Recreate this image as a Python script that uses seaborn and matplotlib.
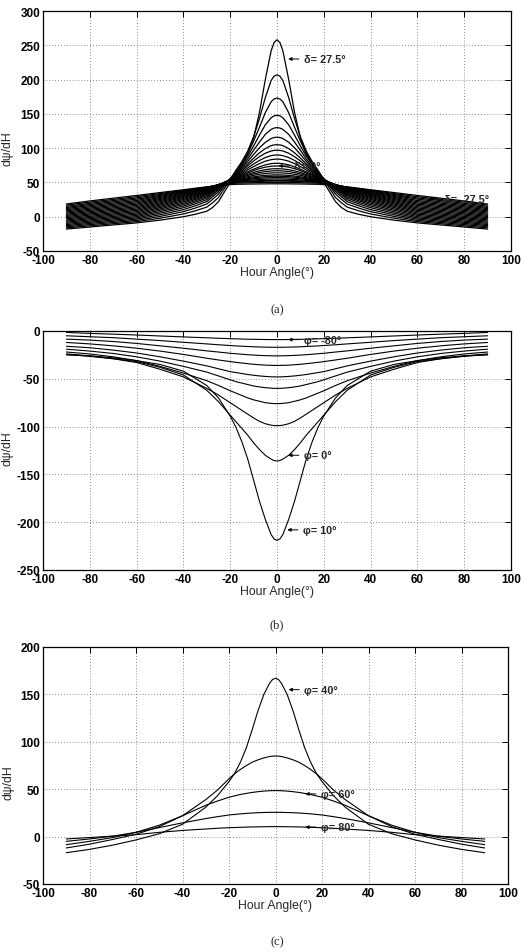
import pandas as pd
import seaborn as sns
import matplotlib.pyplot as plt

# hour angle samples (deg) for H >= 0, curves are symmetric about H = 0
ha_a = [0, 1.25, 2.5, 5, 7.5, 10, 12.5, 15, 17.5, 20, 22.5, 25, 27.5, 30, 35, 40, 50, 60, 70, 80, 90]
ha_bc = [0, 1.25, 2.5, 5, 7.5, 10, 12.5, 15, 17.5, 20, 25, 30, 40, 50, 60, 70, 80, 90]

# (a) fixed latitude, declination 27.5 .. -27.5 step 2.5
d_275 = [258, 254, 242, 200, 152, 115, 92, 76, 63, 50, 36, 22, 13.5, 8, 3.5, 0, -5, -9, -12, -15, -18]
d_250 = [207, 204.9, 198.7, 173.6, 143.1, 116.6, 95.8, 80.5, 68, 54, 41, 28, 20.5, 14, 8.5, 4, -2.2, -7.2, -10.2, -13.3, -16.3]
d_225 = [173, 171.7, 167.7, 151.7, 130.4, 110.2, 92.1, 78.2, 66.5, 55, 44.5, 33, 25.5, 18.5, 12.5, 7.4, 0.4, -5.4, -8.5, -11.5, -14.7]
d_200 = [148, 147.1, 144.3, 134, 118.9, 103.2, 88.2, 75.8, 65, 55.3, 46.5, 36.5, 29.2, 22, 15.8, 10.4, 2.8, -3.5, -6.7, -9.8, -13]
d_175 = [130, 129.3, 127.3, 120.1, 108.8, 96.9, 84.3, 73, 63.7, 55.2, 47.8, 39, 32, 24.8, 18.6, 13.1, 5.1, -1.7, -4.9, -8.1, -11.4]
d_150 = [116, 115.5, 114.1, 108.5, 100.5, 90.9, 80.7, 71.1, 62.5, 55, 48.7, 40.8, 34.2, 27.2, 21, 15.5, 7.3, 0.1, -3.1, -6.4, -9.7]
d_125 = [105, 104.7, 103.7, 99.3, 93.2, 85.4, 77.1, 68.8, 61.4, 54.7, 49.3, 42.2, 36, 29.2, 23.1, 17.7, 9.4, 1.9, -1.4, -4.6, -8]
d_100 = [97, 96.7, 95.9, 92.6, 87.5, 81.3, 74.3, 67, 60.4, 54.3, 49.7, 43.3, 37.4, 31, 25, 19.7, 11.4, 3.7, 0.4, -2.9, -6.4]
d_075 = [90, 89.8, 89.1, 86.3, 82.1, 76.9, 71.1, 65, 59.5, 54, 50, 44.2, 38.7, 32.5, 26.7, 21.6, 13.3, 5.5, 2.2, -1.2, -4.7]
d_050 = [84, 83.8, 83.2, 81, 77.4, 73.1, 68.3, 63.2, 58.6, 53.6, 50.1, 44.9, 39.7, 33.8, 28.3, 23.4, 15.1, 7.4, 4, 0.5, -3.1]
d_025 = [78, 77.8, 77.4, 75.6, 72.7, 69.3, 65.5, 61.4, 57.8, 53.2, 50.1, 45.5, 40.6, 35, 29.7, 25.1, 16.9, 9.2, 5.7, 2.3, -1.4]
d_000 = [74, 73.9, 73.6, 72.3, 70.1, 67.2, 63.8, 60.4, 57, 52.8, 50, 46, 41.4, 36.1, 31.1, 26.7, 18.6, 11, 7.5, 4, 0.3]
d_m025 = [70, 69.9, 69.7, 68.6, 66.8, 64.5, 61.7, 59, 56.2, 52.4, 49.8, 46.3, 42.1, 37.1, 32.4, 28.2, 20.3, 12.8, 9.3, 5.7, 1.9]
d_m050 = [67, 66.9, 66.7, 65.9, 64.4, 62.4, 60.1, 57.8, 55.5, 52, 49.6, 46.6, 42.7, 38, 33.6, 29.6, 21.9, 14.6, 11, 7.5, 3.6]
d_m075 = [64, 63.9, 63.8, 63.1, 61.9, 60.3, 58.4, 56.6, 54.7, 51.5, 49.3, 46.8, 43.2, 38.8, 34.7, 30.9, 23.5, 16.5, 12.8, 9.2, 5.2]
d_m100 = [61, 61, 60.8, 60.3, 59.4, 58.2, 56.8, 55.4, 54, 51, 49, 46.9, 43.6, 39.6, 35.7, 32.1, 25.1, 18.3, 14.6, 10.9, 6.9]
d_m125 = [59, 59, 58.9, 58.4, 57.7, 56.7, 55.5, 54.4, 53.2, 50.5, 48.6, 46.9, 44, 40.3, 36.7, 33.3, 26.6, 20.1, 16.4, 12.6, 8.6]
d_m150 = [57, 57, 56.9, 56.6, 56, 55.2, 54.3, 53.4, 52.5, 50, 48.2, 46.8, 44.3, 41, 37.6, 34.4, 28.1, 21.9, 18.1, 14.4, 10.2]
d_m175 = [55, 55, 54.9, 54.7, 54.2, 53.7, 53, 52.4, 51.7, 49.5, 47.8, 46.7, 44.5, 41.6, 38.5, 35.5, 29.6, 23.7, 19.9, 16.1, 11.9]
d_m200 = [53, 53, 52.9, 52.8, 52.5, 52.2, 51.7, 51.3, 50.9, 49, 47.4, 46.5, 44.6, 42.2, 39.3, 36.5, 31, 25.6, 21.7, 17.8, 13.5]
d_m225 = [52, 52, 51.9, 51.8, 51.5, 51.2, 50.8, 50.4, 50, 48.3, 47, 46.3, 44.7, 42.7, 40.1, 37.5, 32.4, 27.4, 23.5, 19.5, 15.2]
d_m250 = [50, 50, 50, 49.9, 49.7, 49.6, 49.3, 49.1, 48.9, 47.6, 46.6, 45.9, 44.7, 43.2, 40.8, 38.4, 33.8, 29.2, 25.2, 21.3, 16.9]
d_m275 = [48, 48, 48, 47.9, 47.8, 47.7, 47.6, 47.4, 47.3, 46.8, 46.2, 45.4, 44.5, 43.6, 41.5, 39.3, 35.2, 31, 27, 23, 18.5]

# (b) latitude 10 .. -80
p_10 = [-219, -217.5, -213, -197, -178, -156, -134, -116, -101, -89, -70, -57, -42, -35, -31, -28, -26, -25]
p_0 = [-136, -135.5, -134, -130, -124, -117, -109, -102, -95, -88, -74, -62, -46, -38, -32, -29, -26.5, -24.5]
p_m10 = [-99, -98.9, -98.5, -97, -94.5, -91, -87, -83, -79, -75, -67, -60, -48, -40, -33, -29, -26, -24]
p_m20 = [-76, -75.9, -75.7, -75, -73.5, -72, -70, -67.5, -65, -62.5, -57, -52, -44, -37, -31, -27, -24, -22]
p_m30 = [-60, -60, -59.8, -59.3, -58.5, -57.5, -56, -54.5, -53, -51, -47, -43, -37, -31.5, -27, -23.5, -21, -19]
p_m40 = [-48, -48, -47.9, -47.5, -47, -46.3, -45.5, -44.5, -43.5, -42.5, -39.5, -36.5, -31.5, -27, -23, -20, -17.5, -16]
p_m50 = [-36, -36, -35.9, -35.7, -35.3, -34.8, -34.2, -33.5, -32.8, -32, -30.3, -28.5, -24.5, -21, -18, -15.5, -13.5, -12]
p_m60 = [-26, -26, -25.9, -25.8, -25.5, -25.2, -24.8, -24.3, -23.8, -23.3, -22, -20.8, -18, -15.5, -13, -11, -9.5, -8.5]
p_m70 = [-17, -17, -17, -16.9, -16.7, -16.5, -16.2, -15.9, -15.6, -15.2, -14.4, -13.5, -11.8, -10, -8.5, -7, -6, -5]
p_m80 = [-9, -9, -9, -8.9, -8.8, -8.7, -8.6, -8.4, -8.2, -8, -7.6, -7.1, -6.2, -5.2, -4.2, -3.3, -2.5, -1.5]

# (c) latitude 40 .. 80
p_40 = [167, 165.8, 162, 150, 133, 113, 94, 79, 67, 58, 43, 31, 13, 3, -3.5, -9, -13.5, -17]
p_50 = [85, 84.9, 84.5, 83, 81, 78.5, 75, 71, 66.5, 61, 49, 39, 22, 10.5, 2.5, -3, -8, -12]
p_60 = [48.5, 48.5, 48.4, 48, 47.4, 46.6, 45.6, 44.5, 43, 41.5, 37.5, 33, 22, 12, 4.5, -1, -5, -8.5]
p_70 = [25.6, 25.6, 25.6, 25.4, 25.2, 24.9, 24.5, 24, 23.4, 22.8, 21, 19, 14.5, 9.5, 4.5, 0.5, -2.5, -5]
p_80 = [10.5, 10.5, 10.5, 10.4, 10.3, 10.2, 10, 9.8, 9.6, 9.4, 8.8, 8, 6.5, 4.5, 2, 0.5, -1, -2.5]

curves_a = [d_275, d_250, d_225, d_200, d_175, d_150, d_125, d_100, d_075, d_050, d_025, d_000,
            d_m025, d_m050, d_m075, d_m100, d_m125, d_m150, d_m175, d_m200, d_m225, d_m250, d_m275]
curves_b = [p_10, p_0, p_m10, p_m20, p_m30, p_m40, p_m50, p_m60, p_m70, p_m80]
curves_c = [p_40, p_50, p_60, p_70, p_80]


def to_frame(ha, curves):
    parts = []
    for i, vals in enumerate(curves):
        h = [-x for x in ha[::-1]] + ha[1:]
        v = vals[::-1] + vals[1:]
        parts.append(pd.DataFrame({'H': h, 'v': v, 'curve': i}))
    return pd.concat(parts, ignore_index=True)


sns.set_style('white')
plt.rcParams['font.family'] = ['Liberation Sans', 'DejaVu Sans']
plt.rcParams['axes.unicode_minus'] = False

fig = plt.figure(figsize=(5.21, 9.53), dpi=100)
W, H = 521, 953
# axes boxes in pixels: left, top, right, bottom
boxes = [(43, 12, 511, 252), (43, 332, 511, 571), (43, 648, 508, 885)]
panels = [
    (ha_a, curves_a, (-50, 300), 0.43, '(a)', 310, 0.9,
     [(4.8, 230, '\u03b4= 27.5\u00b0'), (0.6, 74, '\u03b4= 0\u00b0'),
      (64.6, 26, '\u03b4= -27.5\u00b0')]),
    (ha_bc, curves_b, (-250, 0), 0.51, '(b)', 625, 0.8,
     [(4.8, -9, '\u03c6= -80\u00b0'), (4.8, -130, '\u03c6= 0\u00b0'),
      (4.4, -208, '\u03c6= 10\u00b0')]),
    (ha_bc, curves_c, (-50, 200), 0.43, '(c)', 942, 0.8,
     [(5.6, 155, '\u03c6= 40\u00b0'), (12.8, 45, '\u03c6= 60\u00b0'),
      (12.8, 10, '\u03c6= 80\u00b0')]),
]

for (l, t, r, b), (ha, curves, ylim, ylab_y, cap, cap_y, lw, notes) in zip(boxes, panels):
    ax = fig.add_axes([l / W, 1 - b / H, (r - l) / W, (b - t) / H])
    df = to_frame(ha, curves)
    sns.lineplot(data=df, x='H', y='v', units='curve', estimator=None, color='black',
                 lw=lw, ax=ax, legend=False)
    ax.set_xlim(-100, 100)
    ax.set_ylim(*ylim)
    ax.set_xticks(range(-100, 101, 20))
    ax.set_yticks(range(ylim[0], ylim[1] + 1, 50))
    ax.grid(True, color='#666666', linestyle=(0, (1, 2.5)), lw=0.6)
    for s in ax.spines.values():
        s.set_color('black')
        s.set_linewidth(0.9)
    ax.tick_params(direction='in', length=4, width=0.7, top=True, right=True,
                   labelsize=8.5, pad=2, colors='black')
    for lab in ax.get_xticklabels() + ax.get_yticklabels():
        lab.set_fontweight('bold')
    ax.set_xlabel('Hour Angle(\u00b0)', fontsize=8.8, labelpad=0)
    ax.set_ylabel('d\u03c8/dH', fontsize=8.8)
    ax.yaxis.set_label_coords(-0.062, ylab_y)
    for x, y, s in notes:
        # arrow pointing at the curve, label to its right
        ax.annotate(s, xy=(x, y), xytext=(11.5, 0), textcoords='offset points',
                    fontsize=7.8, fontweight='bold', va='center', ha='left',
                    arrowprops=dict(arrowstyle='-|>', color='black', lw=0.7,
                                    mutation_scale=5, shrinkA=1.5, shrinkB=0))
    fig.text(277 / W, 1 - cap_y / H, cap, ha='center', va='center',
             family='Liberation Serif', fontsize=9)

fig.savefig('out.png', dpi=100)
